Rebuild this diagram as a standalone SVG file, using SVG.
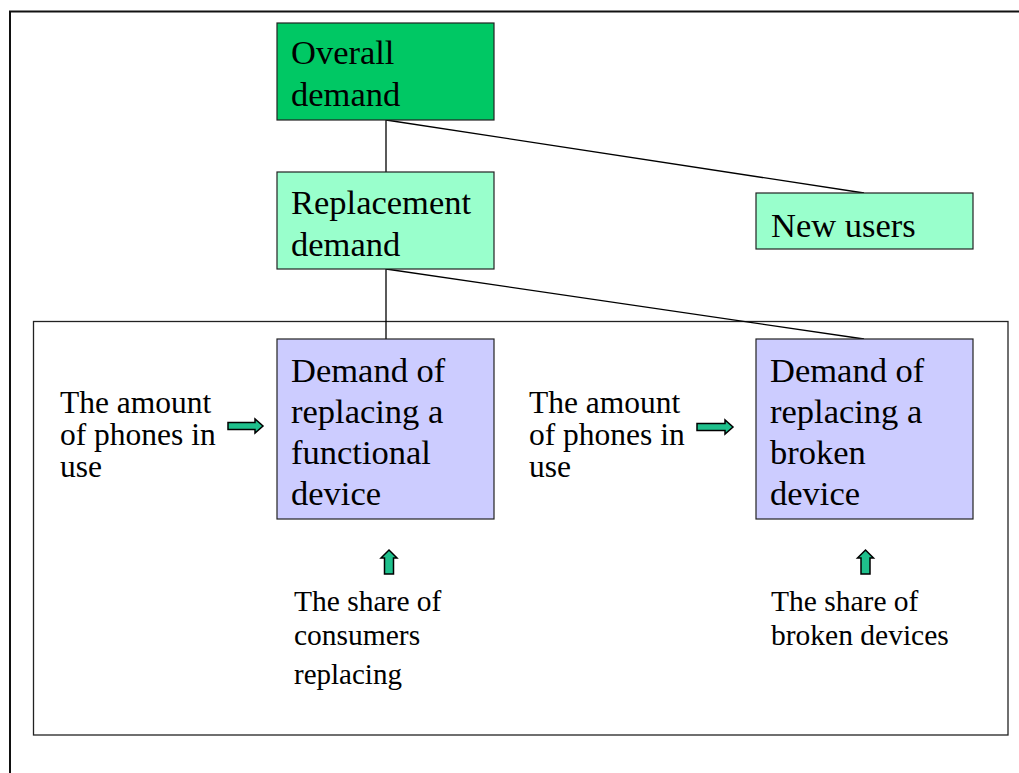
<svg xmlns="http://www.w3.org/2000/svg" width="1019" height="773" viewBox="0 0 1019 773">
<style>
.box{stroke:#222;stroke-width:1.2}
.t{font-family:"Liberation Serif","Times New Roman",serif;fill:#000}
.big{font-size:34.5px}
.mid{font-size:31.5px}
.sm{font-size:29.5px}
.arr{fill:#1fc08c;stroke:#000;stroke-width:1.5;stroke-linejoin:miter}
.ln{stroke:#000;stroke-width:1.3;fill:none}
</style>
<rect width="1019" height="773" fill="#fff"/>
<g id="frame">
<path d="M10,773 V11.5 H1019" fill="none" stroke="#111" stroke-width="2"/>
<rect x="33.5" y="321.5" width="974.5" height="413.5" fill="none" stroke="#222" stroke-width="1.3"/>
</g>
<g id="connectors">
<line class="ln" x1="386" y1="120" x2="386" y2="172"/>
<line class="ln" x1="386" y1="120" x2="864" y2="193"/>
<line class="ln" x1="386" y1="269" x2="386" y2="339"/>
<line class="ln" x1="386" y1="269" x2="864" y2="339"/>
<path class="arr" d="M228,422.5 H255 V419 L263,426 L255,433 V429.5 H228 Z"/>
<path class="arr" d="M697,423.5 H725 V420 L733,427 L725,434 V430.5 H697 Z"/>
<path class="arr" d="M384.5,574 V558 H381 L389,550 L397,558 H393.5 V574 Z"/>
<path class="arr" d="M861,574 V558 H857.5 L865.5,550 L873.5,558 H870 V574 Z"/>
</g>
<g id="overall">
<rect class="box" x="277" y="23" width="217" height="97" fill="#00c864"/>
<text class="t big" x="291" y="64">Overall</text>
<text class="t big" x="291" y="106">demand</text>
</g>
<g id="replacement">
<rect class="box" x="277" y="172" width="217" height="97" fill="#99ffcc"/>
<text class="t big" x="291" y="214">Replacement</text>
<text class="t big" x="291" y="256">demand</text>
</g>
<g id="newusers">
<rect class="box" x="756" y="193" width="217" height="56" fill="#99ffcc"/>
<text class="t big" x="771" y="237">New users</text>
</g>
<g id="functional">
<rect class="box" x="277" y="339" width="217" height="180" fill="#ccccff"/>
<text class="t big" x="291" y="382">Demand of</text>
<text class="t big" x="291" y="423">replacing a</text>
<text class="t big" x="291" y="464">functional</text>
<text class="t big" x="291" y="505">device</text>
</g>
<g id="broken">
<rect class="box" x="756" y="339" width="217" height="180" fill="#ccccff"/>
<text class="t big" x="770" y="382">Demand of</text>
<text class="t big" x="770" y="423">replacing a</text>
<text class="t big" x="770" y="464">broken</text>
<text class="t big" x="770" y="505">device</text>
</g>
<g id="amount1">
<text class="t mid" x="60" y="413">The amount</text>
<text class="t mid" x="60" y="445">of phones in</text>
<text class="t mid" x="60" y="477">use</text>
</g>
<g id="amount2">
<text class="t mid" x="529" y="413">The amount</text>
<text class="t mid" x="529" y="445">of phones in</text>
<text class="t mid" x="529" y="477">use</text>
</g>
<g id="share1">
<text class="t sm" x="294" y="611">The share of</text>
<text class="t sm" x="294" y="645">consumers</text>
<text class="t" x="294" y="684" font-size="29px" fill="#222">replacing</text>
</g>
<g id="share2">
<text class="t sm" x="771" y="611">The share of</text>
<text class="t sm" x="771" y="645">broken devices</text>
</g>
</svg>
